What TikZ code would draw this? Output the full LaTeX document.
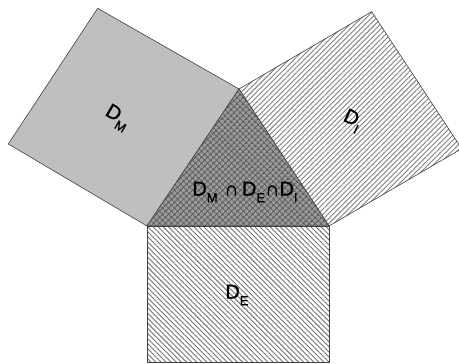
\documentclass[tikz,border=0pt]{standalone}
\usepackage{fontspec}
\setmainfont{Liberation Sans}
\newfontfamily\labfont[FakeBold=1.2]{Liberation Sans}
\usetikzlibrary{patterns.meta}
\newcommand\Dlab[1]{D\raisebox{-0.33em}{\fontsize{13}{13}\selectfont #1}}
\begin{document}
\begin{tikzpicture}[x=1pt,y=1pt,
  edge/.style={draw=black!75,line width=0.6pt},
  lab/.style={font=\labfont\fontsize{20}{20}\selectfont,inner sep=0pt}]
\useasboundingbox (0,0) rectangle (459,364);
\clip (0,0) rectangle (459,364);
% corner points
\coordinate (A) at (239,275);
\coordinate (B) at (147,138);
\coordinate (C) at (329,138);
\coordinate (Mt) at (97.7,355.7);
\coordinate (Ml) at (8.3,220);
\coordinate (It) at (371.7,352.3);
\coordinate (Ir) at (461.7,215.3);
\coordinate (Eb) at (329,2);
\coordinate (Ea) at (147,2);
% D_M square
\path[edge,fill=black!25] (B) -- (A) -- (Mt) -- (Ml) -- cycle;
% D_I square
\path[fill=white] (A) -- (It) -- (Ir) -- (C) -- cycle;
\path[edge,pattern={Lines[angle=45,distance=3.6pt,line width=0.9pt]},pattern color=black!50] (A) -- (It) -- (Ir) -- (C) -- cycle;
% D_E rectangle
\path[fill=white] (B) -- (C) -- (Eb) -- (Ea) -- cycle;
\path[edge,pattern={Lines[angle=-45,distance=3.6pt,line width=0.9pt]},pattern color=black!55] (B) -- (C) -- (Eb) -- (Ea) -- cycle;
% intersection triangle
\path[fill=black!40] (A) -- (B) -- (C) -- cycle;
\path[edge,pattern={Hatch[angle=45,distance=4pt,line width=1pt]},pattern color=black!65] (A) -- (B) -- (C) -- cycle;
% labels
\node[lab,rotate=-30] (lm) at (117,246) {\Dlab{M}};
\node[lab,rotate=-25] (li) at (352,243) {\Dlab{I}};
\node[lab] (le) at (237,69) {\Dlab{E}};
\node[lab] (lc) at (245,172) {\Dlab{M}\,\,∩\,\Dlab{E}∩\Dlab{I}};
\end{tikzpicture}
\end{document}
